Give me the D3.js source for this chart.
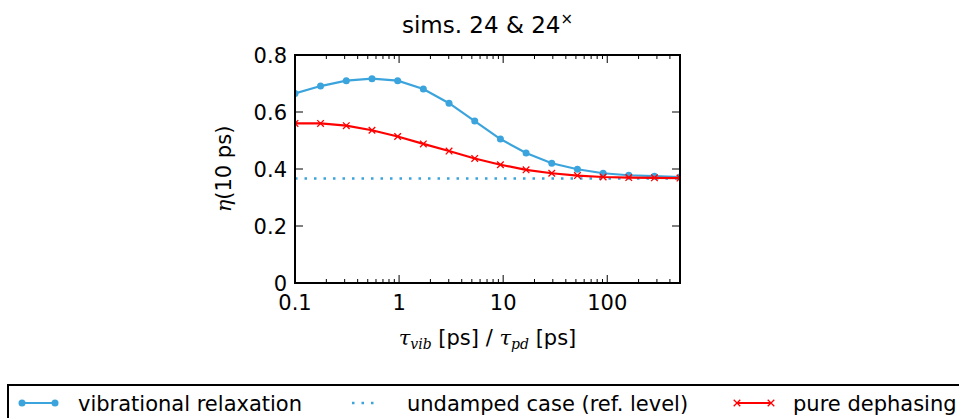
<!DOCTYPE html>
<html>
<head>
<meta charset="utf-8">
<script src="https://cdn.jsdelivr.net/npm/d3@7"></script>
<style>
  body { margin: 0; background: #fff; }
  text { font-family: "DejaVu Sans", sans-serif; fill: #000; }
</style>
</head>
<body>
<svg id="chart" width="959" height="418"></svg>
<script>
// relaxation / dephasing time [ps], 16 log-spaced points from 0.1 to 500
var tau = [0.1, 0.176, 0.311, 0.549, 0.969, 1.71, 3.02, 5.33, 9.41, 16.6, 29.3, 51.7, 91.3, 161, 284, 500];
var vibRelax = [0.665, 0.691, 0.710, 0.717, 0.710, 0.681, 0.631, 0.568, 0.505, 0.456, 0.420, 0.399, 0.385, 0.378, 0.375, 0.372];
var pureDeph = [0.560, 0.560, 0.552, 0.536, 0.514, 0.488, 0.463, 0.437, 0.415, 0.397, 0.385, 0.377, 0.372, 0.370, 0.369, 0.368];
var refLevel = 0.367;
var xTicks = [0.1, 1, 10, 100];
var yTicks = [0, 0.2, 0.4, 0.6, 0.8];

var blue = "#3ca4dc", red = "#ff0000", fs = "21px";

var pLeft = 295, pRight = 680, pTop = 55, pBottom = 283;

var svg = d3.select("#chart");

var x = d3.scaleLog().domain([0.1, 500]).range([pLeft, pRight]);
var y = d3.scaleLinear().domain([0, 0.8]).range([pBottom, pTop]);

// title
var title = svg.append("text")
    .attr("x", (pLeft + pRight) / 2)
    .attr("y", 33)
    .attr("text-anchor", "middle")
    .style("font-size", "23px")
    .text("sims. 24 & 24");
title.append("tspan")
    .attr("dy", -9)
    .style("font-size", "15px")
    .text("\u00d7");

var plot = svg.append("g");

plot.append("clipPath").attr("id", "clip")
  .append("rect")
    .attr("x", pLeft).attr("y", pTop)
    .attr("width", pRight - pLeft).attr("height", pBottom - pTop);

// minor + major ticks (inward, all four sides)
var minor = [];
for (var e = -1; e <= 2; e++) {
  for (var m = 2; m <= 9; m++) {
    var v = m * Math.pow(10, e);
    if (v <= 500) minor.push(v);
  }
}
var ticks = plot.append("g").attr("stroke", "#000").attr("stroke-width", 1);
minor.forEach(function(v) {
  ticks.append("line").attr("x1", x(v)).attr("x2", x(v)).attr("y1", pBottom).attr("y2", pBottom - 4);
  ticks.append("line").attr("x1", x(v)).attr("x2", x(v)).attr("y1", pTop).attr("y2", pTop + 4);
});
xTicks.forEach(function(v) {
  ticks.append("line").attr("x1", x(v)).attr("x2", x(v)).attr("y1", pBottom).attr("y2", pBottom - 8);
  ticks.append("line").attr("x1", x(v)).attr("x2", x(v)).attr("y1", pTop).attr("y2", pTop + 8);
});
yTicks.forEach(function(v) {
  ticks.append("line").attr("x1", pLeft).attr("x2", pLeft + 8).attr("y1", y(v)).attr("y2", y(v));
  ticks.append("line").attr("x1", pRight).attr("x2", pRight - 8).attr("y1", y(v)).attr("y2", y(v));
});

// tick labels
plot.selectAll(".xl").data(xTicks).enter().append("text")
    .attr("x", function(d) { return x(d); })
    .attr("y", 310)
    .attr("text-anchor", "middle")
    .style("font-size", fs)
    .text(function(d) { return d3.format("~g")(d); });

plot.selectAll(".yl").data(yTicks).enter().append("text")
    .attr("x", 287)
    .attr("y", function(d) { return y(d); })
    .attr("dy", "0.36em")
    .attr("text-anchor", "end")
    .style("font-size", fs)
    .text(function(d) { return d === 0 ? "0" : d3.format(".1f")(d); });

// data
var g = plot.append("g").attr("clip-path", "url(#clip)");

var line = d3.line()
    .x(function(d) { return x(d[0]); })
    .y(function(d) { return y(d[1]); });

var vibData = d3.zip(tau, vibRelax);
var pdData = d3.zip(tau, pureDeph);

g.append("line")
    .attr("x1", pLeft).attr("x2", pRight)
    .attr("y1", y(refLevel)).attr("y2", y(refLevel))
    .attr("stroke", blue).attr("stroke-width", 2.5)
    .attr("stroke-dasharray", "2.5,7");

g.append("path").datum(vibData)
    .attr("d", line).attr("fill", "none")
    .attr("stroke", blue).attr("stroke-width", 2.2);
g.selectAll(".vm").data(vibData).enter().append("circle")
    .attr("cx", function(d) { return x(d[0]); })
    .attr("cy", function(d) { return y(d[1]); })
    .attr("r", 3.5).attr("fill", blue);

g.append("path").datum(pdData)
    .attr("d", line).attr("fill", "none")
    .attr("stroke", red).attr("stroke-width", 2.2);
var cross = d3.symbol().type(d3.symbolX).size(30);
g.selectAll(".pm").data(pdData).enter().append("path")
    .attr("transform", function(d) { return "translate(" + x(d[0]) + "," + y(d[1]) + ")"; })
    .attr("d", cross).attr("fill", "none").attr("stroke", red).attr("stroke-width", 1.3);

// frame
plot.append("rect")
    .attr("x", pLeft).attr("y", pTop)
    .attr("width", pRight - pLeft).attr("height", pBottom - pTop)
    .attr("fill", "none").attr("stroke", "#000").attr("stroke-width", 2);

// axis labels
var yl = svg.append("text")
    .attr("transform", "translate(231," + ((pTop + pBottom) / 2) + ") rotate(-90)")
    .attr("text-anchor", "middle")
    .style("font-size", fs);
yl.append("tspan").style("font-family", "DejaVu Serif").style("font-style", "italic").text("\u03b7");
yl.append("tspan").text("(10 ps)");

var xl = svg.append("text")
    .attr("x", (pLeft + pRight) / 2)
    .attr("y", 345)
    .attr("text-anchor", "middle")
    .style("font-size", fs);
xl.append("tspan").style("font-family", "DejaVu Serif").style("font-style", "italic").text("\u03c4");
xl.append("tspan").attr("dy", 4).style("font-family", "DejaVu Serif").style("font-style", "italic").style("font-size", "14px").text("vib");
xl.append("tspan").attr("dy", -4).text(" [ps] / ");
xl.append("tspan").style("font-family", "DejaVu Serif").style("font-style", "italic").text("\u03c4");
xl.append("tspan").attr("dy", 4).style("font-family", "DejaVu Serif").style("font-style", "italic").style("font-size", "14px").text("pd");
xl.append("tspan").attr("dy", -4).text(" [ps]");

// legend
var leg = svg.append("g");
leg.append("rect")
    .attr("x", 8).attr("y", 385)
    .attr("width", 1000).attr("height", 60)
    .attr("fill", "#fff").attr("stroke", "#000").attr("stroke-width", 2);

var ly = 403;
leg.append("line").attr("x1", 22).attr("x2", 55).attr("y1", ly).attr("y2", ly)
    .attr("stroke", blue).attr("stroke-width", 2.2);
[22, 55].forEach(function(px) {
  leg.append("circle").attr("cx", px).attr("cy", ly).attr("r", 3.5).attr("fill", blue);
});
leg.append("text").attr("x", 78).attr("y", ly).attr("dy", "0.36em")
    .style("font-size", fs).text("vibrational relaxation");

leg.append("line").attr("x1", 352).attr("x2", 377).attr("y1", ly).attr("y2", ly)
    .attr("stroke", blue).attr("stroke-width", 2.5).attr("stroke-dasharray", "2.5,7");
leg.append("text").attr("x", 407).attr("y", ly).attr("dy", "0.36em")
    .style("font-size", fs).text("undamped case (ref. level)");

leg.append("line").attr("x1", 737).attr("x2", 771).attr("y1", ly).attr("y2", ly)
    .attr("stroke", red).attr("stroke-width", 2.2);
[737, 771].forEach(function(px) {
  leg.append("path").attr("transform", "translate(" + px + "," + ly + ")")
      .attr("d", cross).attr("fill", "none").attr("stroke", red).attr("stroke-width", 1.3);
});
leg.append("text").attr("x", 793).attr("y", ly).attr("dy", "0.36em")
    .style("font-size", fs).text("pure dephasing");
</script>
</body>
</html>
